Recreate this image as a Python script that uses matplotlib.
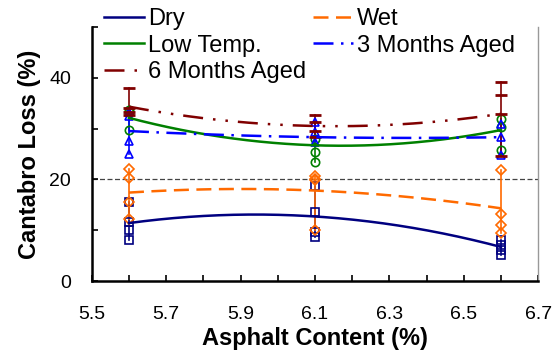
import numpy as np
import matplotlib
matplotlib.use("Agg")
import matplotlib.pyplot as plt
from matplotlib.ticker import MultipleLocator, FixedLocator

plt.rcParams['font.family'] = ['Liberation Sans', 'DejaVu Sans']

# ------------------------------
# DATA
# ------------------------------

asphalt = [5.6, 6.1, 6.6]

names = ["Dry", "Wet", "Low Temp.", "3 Months Aged", "6 Months Aged"]

# mean values (curve positions)
dry_mean = [11.4, 12.7, 6.7]
wet_mean = [17.4, 17.8, 14.3]
low_mean = [32.1, 26.7, 29.7]
m3_mean = [29.5, 28.3, 28.3]
m6_mean = [34.3, 30.5, 32.9]

# individual specimens at each asphalt content
dry_pts = [[15.5, 11.6, 10.0, 8.0], [18.6, 13.6, 9.7, 8.7], [8.0, 7.1, 6.1, 5.1]]
wet_pts = [[22.1, 20.3, 15.5, 12.3], [20.6, 20.1, 19.9, 10.0], [21.8, 13.1, 11.0, 9.4]]
low_pts = [[33.7, 33.2, 29.8], [28.0, 25.4, 23.4], [31.9, 30.3, 25.8]]
m3_pts = [[33.2, 32.5, 27.6, 24.9], [31.2, 29.3, 27.3], [30.9, 28.3, 24.7]]
m6_pts = [[38.0, 34.0, 33.2, 32.6], [32.7, 31.2, 29.5, 28.3], [39.2, 36.5, 32.9, 24.6]]

threshold = 20

xticks = [5.5, 5.7, 5.9, 6.1, 6.3, 6.5, 6.7]
xticklabels = ["5.5", "5.7", "5.9", "6.1", "6.3", "6.5", "6.7"]
yticks = [0, 20, 40]
yticklabels = ["0", "20", "40"]

# ------------------------------
# STYLES
# ------------------------------

colors = ["#000080", "#FF6A00", "#008000", "#0000FF", "#800000"]
markers = ["s", "D", "o", "^", "_"]
msizes = [6, 5, 6, 6, 9]
dashes = [(None, None), (6, 3), (None, None), (8, 3, 1, 3), (8, 4, 1, 4, 1, 4)]

means = [dry_mean, wet_mean, low_mean, m3_mean, m6_mean]
points = [dry_pts, wet_pts, low_pts, m3_pts, m6_pts]

fig = plt.figure(figsize=(5.56, 3.58), dpi=100)
ax = fig.add_axes([0.165, 0.215, 0.803, 0.71])

ax.axhline(threshold, color="#444444", lw=0.9, ls=(0, (4, 2)), zorder=1)

xs = np.linspace(asphalt[0], asphalt[-1], 200)
handles = []
for name, c, m, ms, d, mean, pts in zip(names, colors, markers, msizes, dashes, means, points):
    # vertical range line + specimen markers
    for x, p in zip(asphalt, pts):
        ax.plot([x, x], [min(p), max(p)], color=c, lw=1.2, zorder=3)
        ax.plot([x] * len(p), p, ls="none", marker=m, ms=ms, mfc="none",
                mec=c, mew=1.2 if m != "_" else 2.0, zorder=3.5)
    # smoothed curve through the means
    coef = np.polyfit(asphalt, mean, 2)
    line, = ax.plot(xs, np.polyval(coef, xs), color=c, lw=1.8, zorder=4, label=name)
    if d[0] is not None:
        line.set_dashes(d)
    handles.append(line)

ax.set_xlim(5.5, 6.7)
ax.set_ylim(0, 50)
ax.xaxis.set_major_locator(FixedLocator(xticks))
ax.set_xticklabels(xticklabels)
ax.xaxis.set_minor_locator(MultipleLocator(0.1))
ax.yaxis.set_major_locator(FixedLocator(yticks))
ax.set_yticklabels(yticklabels)
ax.yaxis.set_minor_locator(MultipleLocator(10))
ax.tick_params(which="both", direction="in", labelsize=14, width=1.2, length=4)
ax.tick_params(axis="x", pad=18)
ax.tick_params(axis="y", pad=15)

for s in ["left", "bottom"]:
    ax.spines[s].set_linewidth(1.8)
ax.spines["top"].set_visible(False)
ax.spines["right"].set_color("#999999")
ax.spines["right"].set_linewidth(1.0)

ax.set_xlabel("Asphalt Content (%)", fontsize=17, fontweight="bold", labelpad=3)
ax.set_ylabel("Cantabro Loss (%)", fontsize=17, fontweight="bold", labelpad=6)

order = [0, 2, 4, 1, 3]
leg = ax.legend([handles[i] for i in order], [names[i] for i in order],
                ncol=2, loc="upper left", bbox_to_anchor=(0.163, 1.014),
                bbox_transform=fig.transFigure,
                frameon=True, fontsize=17, handlelength=1.7, handletextpad=0.2,
                columnspacing=0.25, labelspacing=0.2, borderpad=0.05)
leg.get_frame().set_edgecolor("none")
leg.get_frame().set_facecolor("white")
leg.get_frame().set_alpha(1.0)
leg.set_zorder(2.6)

fig.savefig("out.png", dpi=100)
